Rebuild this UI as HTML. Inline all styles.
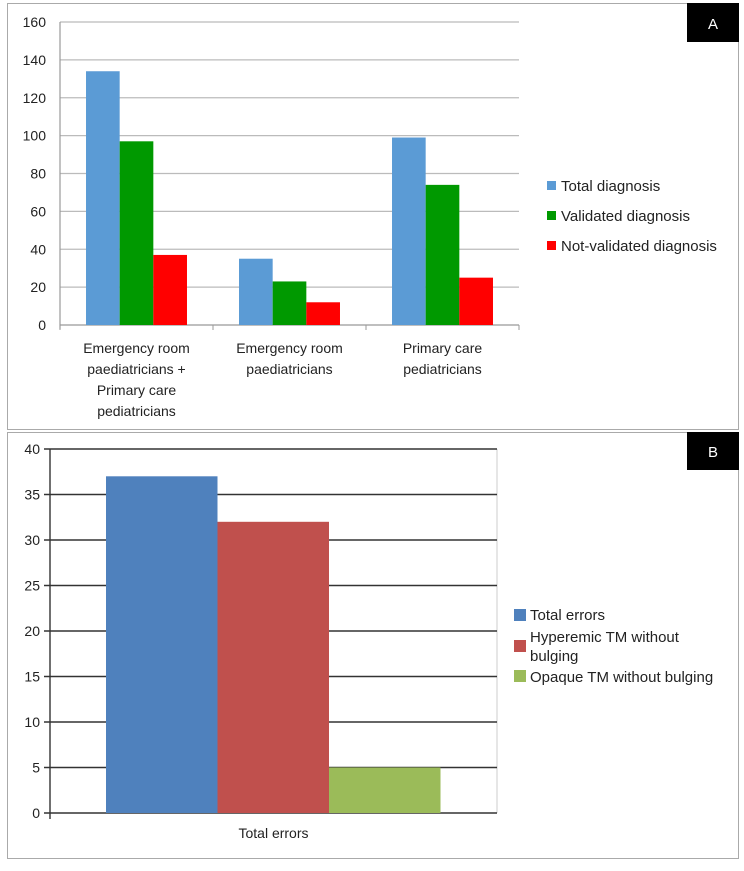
<!DOCTYPE html>
<html><head><meta charset="utf-8"><style>
body{margin:0;background:#fff;font-family:"Liberation Sans",sans-serif;}
svg text{font-family:"Liberation Sans",sans-serif;fill:#222;}
</style></head><body>
<svg width="744" height="866">
<g id="A">
<rect x="7.5" y="3.5" width="731" height="426" fill="#fff" stroke="#aaa"/>
<rect x="687" y="3" width="52" height="39" fill="#000"/>
<text x="713" y="29" text-anchor="middle" style="fill:#fff" font-size="15">A</text>
</g>
<g id="B">
<rect x="7.5" y="432.5" width="731" height="426" fill="#fff" stroke="#aaa"/>
<rect x="687" y="432" width="52" height="38" fill="#000"/>
<text x="713" y="457" text-anchor="middle" style="fill:#fff" font-size="15">B</text>
</g>
</svg>
<script>
const categoriesA=[["Emergency room","paediatricians +","Primary care","pediatricians"],["Emergency room","paediatricians"],["Primary care","pediatricians"]];
const seriesNamesA=["Total diagnosis","Validated diagnosis","Not-validated diagnosis"];
const totalA=[134,35,99];
const validatedA=[97,23,74];
const notValidatedA=[37,12,25];
const ticksA=[0,20,40,60,80,100,120,140,160];
const categoriesB=["Total errors"];
const seriesNamesB=["Total errors","Hyperemic TM without bulging","Opaque TM without bulging"];
const valuesB=[37,32,5];
const ticksB=[0,5,10,15,20,25,30,35,40];

const NS="http://www.w3.org/2000/svg";
function mk(parent,tag,attrs,text){const e=document.createElementNS(NS,tag);for(const k in attrs)e.setAttribute(k,attrs[k]);if(text!==undefined)e.textContent=text;parent.appendChild(e);return e;}

// Chart A
(function(){
const g=document.getElementById('A');
const x0=60,x1=519,y0=325,y1=22,max=160;
const y=v=>y0-(v/max)*(y0-y1);
ticksA.forEach(t=>{
 const l=mk(g,'line',{x1:x0,x2:x1,y1:y(t),y2:y(t),stroke:t===0?'#999':'#bbb','stroke-width':1.2});
 
 
 const tx=mk(g,'text',{x:x0-14,y:y(t)+5,'text-anchor':'end','font-size':14},String(t));
 
 
});
const ax=mk(g,'line',{x1:x0,x2:x0,y1:y1,y2:y0+4,stroke:'#999','stroke-width':1.2});


const cw=(x1-x0)/categoriesA.length;
const colors=['#5b9bd5','#009900','#ff0000'];
const series=[totalA,validatedA,notValidatedA];
for(let i=0;i<=categoriesA.length;i++){
 const tk=mk(g,'line',{x1:x0+i*cw,x2:x0+i*cw,y1:y0,y2:y0+5,stroke:'#999'});
 
 
}
categoriesA.forEach((c,i)=>{
 const bw=cw*0.22, start=x0+i*cw+cw*0.17;
 series.forEach((s,j)=>{
  const r=mk(g,'rect',{x:start+j*bw,y:y(s[i]),width:bw,height:y0-y(s[i]),fill:colors[j]});
  
  
 });
 c.forEach((line,k)=>{
  const t=mk(g,'text',{x:x0+i*cw+cw/2,y:353+k*21,'text-anchor':'middle','font-size':14},line);
  
  
 });
});
seriesNamesA.forEach((n,j)=>{
 const r=mk(g,'rect',{x:547,y:181+j*30,width:9,height:9,fill:colors[j]});
 
 
 const t=mk(g,'text',{x:561,y:191+j*30,'font-size':15},n);
 
 
});
})();

// Chart B
(function(){
const g=document.getElementById('B');
const x0=50,x1=497,y0=813,y1=449,max=40;
const y=v=>y0-(v/max)*(y0-y1);
const pb=mk(g,'line',{x1:x1,x2:x1,y1:y1,y2:y0,stroke:'#ccc','stroke-width':1});


ticksB.forEach(t=>{
 const l=mk(g,'line',{x1:x0-6,x2:x1,y1:y(t),y2:y(t),stroke:'#333','stroke-width':1.4});
 
 
 const tx=mk(g,'text',{x:x0-10,y:y(t)+5,'text-anchor':'end','font-size':14},String(t));
 
 
});
const ax=mk(g,'line',{x1:x0,x2:x0,y1:y1,y2:y0+6,stroke:'#333','stroke-width':1.4});


const colors=['#4f81bd','#c0504d','#9bbb59'];
const bw=111.5, start=x0+56;
valuesB.forEach((v,j)=>{
 const r=mk(g,'rect',{x:start+j*bw,y:y(v),width:bw,height:y0-y(v),fill:colors[j]});
 
 
});
const t=mk(g,'text',{x:x0+(x1-x0)/2,y:838,'text-anchor':'middle','font-size':14},categoriesB[0]);


const ly=[609,640,670];
seriesNamesB.forEach((n,j)=>{
 const r=mk(g,'rect',{x:514,y:ly[j],width:12,height:12,fill:colors[j]});
 
 
});
const lines=[[["Total errors"],620],[["Hyperemic TM without","bulging"],642],[["Opaque TM without bulging"],682]];
lines.forEach(([ls,yy])=>{ls.forEach((s,k)=>{
 const tt=mk(g,'text',{x:530,y:yy+k*19,'font-size':15},s);
 
 
});});
})();
</script>
</body></html>
